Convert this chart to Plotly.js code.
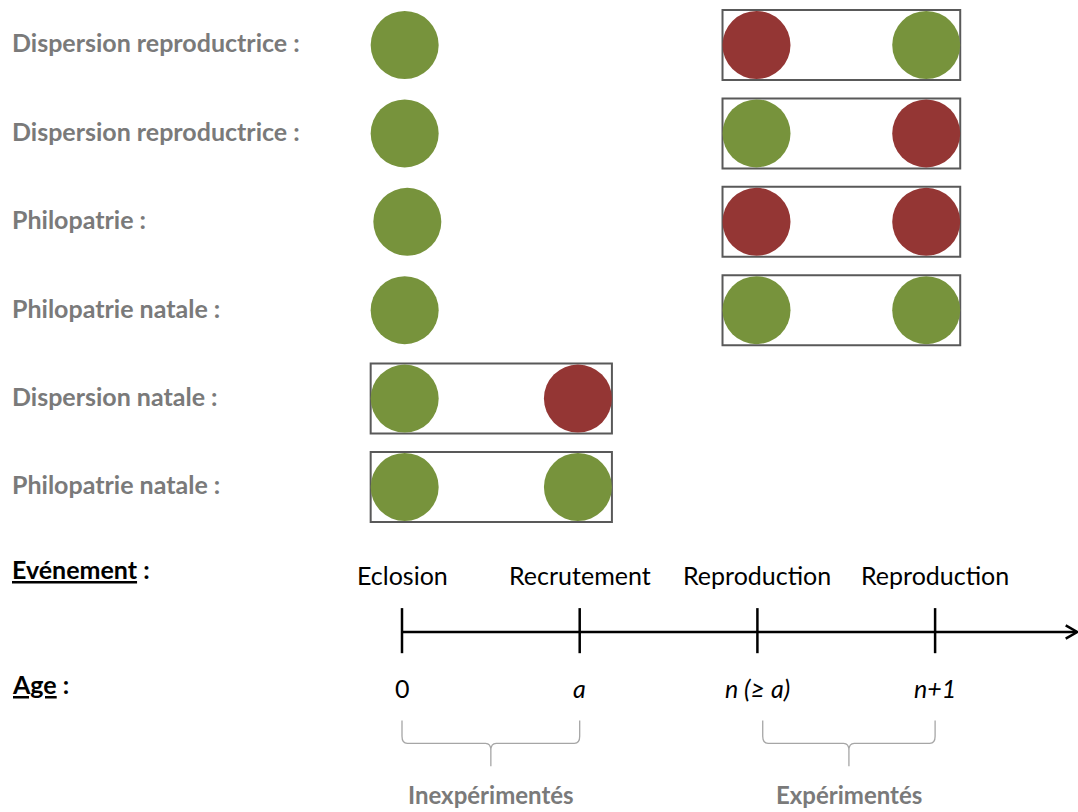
<!DOCTYPE html>
<html><head><meta charset="utf-8">
<script src="https://cdn.plot.ly/plotly-3.0.1.min.js"></script>
<style>html,body{margin:0;padding:0;background:#fff}#chart{width:1078px;height:812px}</style>
</head><body><div id="chart"></div>
<script>
// ---- data ----
const rowLabels = ["Dispersion reproductrice :", "Dispersion reproductrice :", "Philopatrie :", "Philopatrie natale :", "Dispersion natale :", "Philopatrie natale :"];
// G = même site (vert), R = site différent (rouge)
const hatchSite = ["G", "G", "G", "G", null, null];          // lone circle at Eclosion
const boxStages = [[2, 3], [2, 3], [2, 3], [2, 3], [0, 1], [0, 1]];
const boxSites = [["R", "G"], ["G", "R"], ["R", "R"], ["G", "G"], ["G", "R"], ["G", "G"]];
const events = ["Eclosion", "Recrutement", "Reproduction", "Reproduction"];
const ages = ["0", "a", "n (≥ a)", "n+1"];
const groups = ["Inexpérimentés", "Expérimentés"];
const groupSpans = [[0, 1], [2, 3]];

// ---- styling / layout constants ----
const COL = {G: "#77933C", R: "#943634"};
const PXX = 177.7, PXY = 88.4;             // pixels per stage / per row
const stageNudge = [0.015, -0.01, -0.005, -0.05];
const R_PX = 34;
const rx = R_PX / PXX, ry = (R_PX + 1) / PXY;
const EVENT_ROW = 6.0, AGE_ROW = 7.27, AXIS_ROW = 6.64, GROUP_ROW = 8.48;

const traces = [];
const shapes = [];
const annotations = [];
const xs = [], ys = [], cs = [];
rowLabels.forEach((lab, r) => {
  if (hatchSite[r]) { xs.push(0 + stageNudge[0] + (r === 2 ? 0.015 : 0)); ys.push(r); cs.push(COL[hatchSite[r]]); }
  const st = boxStages[r];
  st.forEach((s, k) => { xs.push(s + stageNudge[s]); ys.push(r); cs.push(COL[boxSites[r][k]]); });
  const x0 = st[0] + stageNudge[st[0]] - rx, x1 = st[1] + stageNudge[st[1]] + rx;
  shapes.push({type: "rect", xref: "x", yref: "y", x0: x0, x1: x1, y0: r - ry, y1: r + ry,
    line: {color: "#595959", width: 2}, fillcolor: "rgba(0,0,0,0)", layer: "below"});
  annotations.push({xref: "paper", yref: "y", x: 10 / 1078, y: r - 0.03, xanchor: "left", yanchor: "middle",
    text: "<b>" + lab + "</b>", showarrow: false, font: {family: "Lato", size: 25, color: "#7a7a7a"}});
});
traces.push({type: "scatter", mode: "markers", x: xs, y: ys,
  marker: {size: 2 * R_PX, color: cs, line: {width: 0}}, hoverinfo: "skip", showlegend: false});

// timeline
shapes.push({type: "line", xref: "x", yref: "y", x0: 0, x1: 3.795, y0: AXIS_ROW, y1: AXIS_ROW, line: {color: "#000", width: 2.5}});
shapes.push({type: "path", xref: "x", yref: "y",
  path: `M 3.735 ${AXIS_ROW - 0.075} L 3.80 ${AXIS_ROW} L 3.735 ${AXIS_ROW + 0.075}`, line: {color: "#000", width: 2.5}});
events.forEach((ev, s) => {
  shapes.push({type: "line", xref: "x", yref: "y", x0: s, x1: s, y0: 6.37, y1: 6.88, line: {color: "#000", width: 2.5}});
  annotations.push({xref: "x", yref: "y", x: s, y: EVENT_ROW, text: ev, showarrow: false,
    xanchor: "center", yanchor: "middle", font: {family: "Lato", size: 25, color: "#000"}});
});
ages.forEach((a, s) => {
  annotations.push({xref: "x", yref: "y", x: s, y: AGE_ROW, text: s === 0 ? a : "<i>" + a + "</i>", showarrow: false,
    xanchor: "center", yanchor: "middle", font: {family: "Lato", size: 25, color: "#000"}});
});
annotations.push({xref: "paper", yref: "y", x: 10 / 1078, y: 5.93, xanchor: "left", yanchor: "middle",
  text: "<b><u>Evénement</u> :</b>", showarrow: false, font: {family: "Lato", size: 25, color: "#000"}});
annotations.push({xref: "paper", yref: "y", x: 10 / 1078, y: 7.23, xanchor: "left", yanchor: "middle",
  text: "<b><u>Age</u> :</b>", showarrow: false, font: {family: "Lato", size: 25, color: "#000"}});

// braces
groups.forEach((g, i) => {
  const a = groupSpans[i][0] + (i === 1 ? 0.03 : 0), b = groupSpans[i][1];
  const m = (a + b) / 2;
  const yt = 7.64, yh = 7.90, yb = 8.16, c = 0.03, cy = 0.08;
  const p = `M ${a} ${yt} L ${a} ${yh - cy} Q ${a} ${yh} ${a + c} ${yh} L ${m - c} ${yh} Q ${m} ${yh} ${m} ${yh + cy} L ${m} ${yb} ` +
            `M ${m} ${yh + cy} Q ${m} ${yh} ${m + c} ${yh} L ${b - c} ${yh} Q ${b} ${yh} ${b} ${yh - cy} L ${b} ${yt}`;
  shapes.push({type: "path", xref: "x", yref: "y", path: p, line: {color: "#a6a6a6", width: 1.3}});
  annotations.push({xref: "x", yref: "y", x: m, y: GROUP_ROW, text: "<b>" + g + "</b>", showarrow: false,
    xanchor: "center", yanchor: "middle", font: {family: "Lato", size: 24, color: "#7a7a7a"}});
});

const layout = {
  width: 1078, height: 812, margin: {l: 0, r: 0, t: 0, b: 0},
  paper_bgcolor: "#fff", plot_bgcolor: "#fff",
  xaxis: {range: [-402 / PXX, (1078 - 402) / PXX], visible: false, fixedrange: true},
  yaxis: {range: [(812 - 45) / PXY, -45 / PXY], visible: false, fixedrange: true},
  shapes: shapes, annotations: annotations, showlegend: false
};
Plotly.newPlot("chart", traces, layout, {staticPlot: true});
</script></body></html>
